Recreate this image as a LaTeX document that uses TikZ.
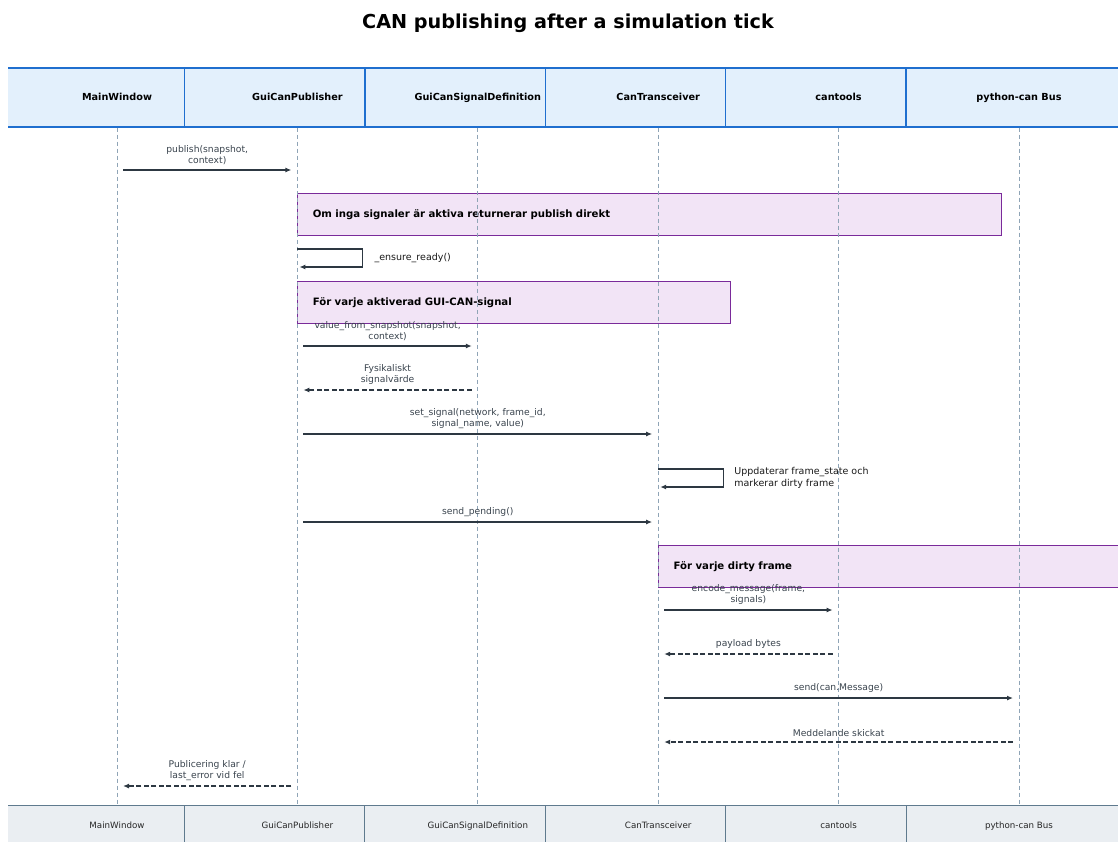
\documentclass[tikz,border=0pt]{standalone}
\usepackage{fontspec}
\setmainfont{DejaVu Sans}
\usetikzlibrary{arrows.meta,calc}
\definecolor{hdrfill}{HTML}{E3F0FC}
\definecolor{hdrline}{HTML}{1F6FCF}
\definecolor{ftrfill}{HTML}{EAEEF2}
\definecolor{ftrline}{HTML}{5F7A8E}
\definecolor{lifecol}{HTML}{8FA4B6}
\definecolor{notefill}{HTML}{F2E4F6}
\definecolor{noteline}{HTML}{7A2A9A}
\definecolor{msgline}{HTML}{2D3842}
\definecolor{msgtext}{HTML}{39434D}
\begin{document}
\begin{tikzpicture}[x=1pt,y=-1pt,
  head/.style={rectangle,draw=hdrline,fill=hdrfill,line width=1.4pt,
    minimum width=226,minimum height=59,inner sep=0,
    text height=0.75em,text depth=0.22em,
    font=\bfseries\fontsize{9.7}{11}\selectfont},
  foot/.style={rectangle,draw=ftrline,fill=ftrfill,line width=1pt,
    minimum width=226,minimum height=42,inner sep=0,
    text height=0.75em,text depth=0.22em,
    font=\fontsize{8.7}{10}\selectfont,text=black!85},
  life/.style={draw=lifecol,dashed,dash pattern=on 4pt off 3pt,line width=0.9pt},
  note/.style={rectangle,draw=noteline,fill=notefill,line width=0.9pt,
    minimum height=42,inner xsep=15,inner ysep=0,align=left,anchor=north west,
    font=\bfseries\fontsize{10.15}{12}\selectfont},
  call/.style={draw=msgline,line width=1.2pt,-{Latex[length=6pt,width=5pt]},
    shorten <=6pt,shorten >=6pt},
  reply/.style={call,dashed,dash pattern=on 5pt off 2.5pt},
  selfcall/.style={draw=msgline,line width=1.2pt,-{Latex[length=6pt,width=5pt]}},
  lbl/.style={midway,above=5pt,inner sep=0,align=center,text=msgtext,
    font=\fontsize{9.2}{11}\selectfont},
  selflbl/.style={anchor=west,inner sep=0,align=left,text=black!90,
    font=\fontsize{9.5}{12}\selectfont}]
\useasboundingbox (0,0) rectangle (1118,841);

% title
\node[font=\bfseries\fontsize{19.2}{22}\selectfont] (title) at (568,23)
  {CAN publishing after a simulation tick};

% participant boxes (top and bottom)
\begin{scope}
\clip (8,0) rectangle (1118,841);
\foreach \lab [count=\i from 0] in {MainWindow,GuiCanPublisher,GuiCanSignalDefinition,CanTransceiver,cantools,python-can Bus}{
  \node[head] (h\i) at (117+180.4*\i,97.5) {\lab};
  \node[foot] (f\i) at (117+180.4*\i,826) {\lab};
}
% notes
\node[note,minimum width=704,text width=674] (n1) at (h1 |- 0,193)
  {Om inga signaler är aktiva returnerar publish direkt};
\node[note,minimum width=433,text width=403] (n2) at (h1 |- 0,281)
  {För varje aktiverad GUI-CAN-signal};
\node[note,minimum width=480,text width=450] (n3) at (h3 |- 0,545)
  {För varje dirty frame};
\end{scope}

% lifelines
\foreach \i in {0,...,5}{
  \draw[life] (h\i.south) -- (f\i.north);
}

% messages
\draw[call] (h0 |- 0,170) -- (h1 |- 0,170)
  node[lbl] {publish(snapshot,\\context)};

\draw[selfcall] (h1 |- 0,249) -- ++(65,0) -- ++(0,18) -- ++(-63,0);
\node[selflbl] (s1) at ($(h1 |- 0,258)+(77,0)$) {\_ensure\_ready()};

\draw[call] (h1 |- 0,346) -- (h2 |- 0,346)
  node[lbl] {value\_from\_snapshot(snapshot,\\context)};
\draw[reply] (h2 |- 0,390) -- (h1 |- 0,390)
  node[lbl] {Fysikaliskt\\signalvärde};
\draw[call] (h1 |- 0,434) -- (h3 |- 0,434)
  node[lbl] {set\_signal(network, frame\_id,\\signal\_name, value)};

\draw[selfcall] (h3 |- 0,469) -- ++(65,0) -- ++(0,18) -- ++(-63,0);
\node[selflbl] (s2) at ($(h3 |- 0,478)+(76,0)$)
  {Uppdaterar frame\_state och\\markerar dirty frame};

\draw[call] (h1 |- 0,522) -- (h3 |- 0,522)
  node[lbl] {send\_pending()};

\draw[call] (h3 |- 0,610) -- (h4 |- 0,610)
  node[lbl] {encode\_message(frame,\\signals)};
\draw[reply] (h4 |- 0,654) -- (h3 |- 0,654)
  node[lbl] {payload bytes};
\draw[call] (h3 |- 0,698) -- (h5 |- 0,698)
  node[lbl] {send(can.Message)};
\draw[reply] (h5 |- 0,742) -- (h3 |- 0,742)
  node[lbl] {Meddelande skickat};
\draw[reply] (h1 |- 0,786) -- (h0 |- 0,786)
  node[lbl] {Publicering klar /\\last\_error vid fel};
\end{tikzpicture}
\end{document}
